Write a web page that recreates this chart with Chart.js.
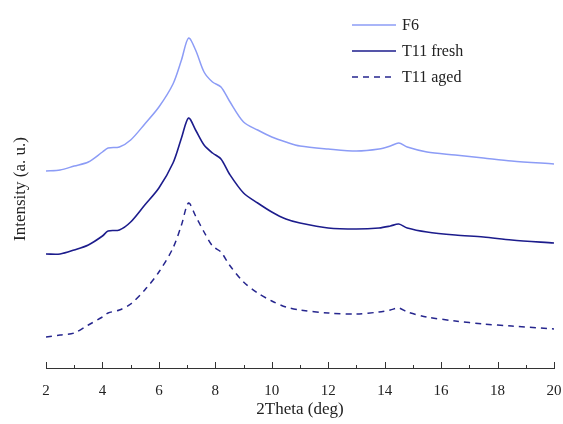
<!DOCTYPE html>
<html>
<head>
<meta charset="utf-8">
<script src="https://cdn.jsdelivr.net/npm/chart.js@4/dist/chart.umd.min.js"></script>
<style>
  html, body { margin: 0; padding: 0; background: #fff; }
  #wrap { width: 563px; height: 424px; position: relative; }
</style>
</head>
<body>
<div id="wrap"><canvas id="xrd"></canvas></div>
<script>
// 2Theta (deg) – common grid for the three patterns
const twoTheta = [2, 2.5, 3, 3.5, 4, 4.2, 4.6, 5, 5.5, 6, 6.5, 6.8, 7.05, 7.3, 7.6, 7.9, 8.2, 8.5,
  9, 9.5, 10, 10.5, 11, 12, 13, 13.8, 14.2, 14.5, 14.8, 15.5, 16.5, 17.5, 18.5, 20];

// intensity (a. u., curves stacked with offsets as in the figure)
const f6 = [197, 198, 202, 206, 216, 220, 221, 228, 244, 261, 284, 308, 330, 318, 296, 286, 281, 267,
  246, 238, 231, 226, 222, 219, 217, 219, 222, 225, 221, 216, 213, 210, 207, 204];
const t11Fresh = [114, 114, 118, 123, 132, 137, 138, 146, 163, 180, 205, 230, 250, 238, 223, 215, 209, 194,
  175, 165, 156, 149, 145, 140, 139, 140, 142, 144, 140, 136, 133, 131, 128, 125];
const t11Aged = [31, 33, 35, 43, 51, 55, 58, 64, 78, 96, 120, 143, 165, 152, 136, 122, 116, 103,
  86, 75, 67, 61, 58, 55, 54, 56, 58, 60, 56, 51, 47, 44, 42, 39];

const seriesLabels = ['F6', 'T11 fresh', 'T11 aged'];
const xTicks = [2, 4, 6, 8, 10, 12, 14, 16, 18, 20];

const FONT = '"Liberation Serif", "Times New Roman", serif';

function pts(ys) {
  return twoTheta.map((x, i) => ({ x: x, y: ys[i] }));
}

// tick marks pointing inwards + legend in the upper right
const decor = {
  id: 'decor',
  afterDraw(chart) {
    const ctx = chart.ctx;
    const xs = chart.scales.x;
    const bottom = chart.chartArea.bottom;
    ctx.save();
    ctx.strokeStyle = '#333';
    ctx.lineWidth = 1;
    for (let v = 2; v <= 20; v++) {
      const px = Math.round(xs.getPixelForValue(v)) + 0.5;
      const len = (v % 2 === 0) ? 6 : 3;
      ctx.beginPath();
      ctx.moveTo(px, bottom);
      ctx.lineTo(px, bottom - len);
      ctx.stroke();
    }

    // legend
    ctx.font = '16px ' + FONT;
    ctx.textBaseline = 'middle';
    chart.data.datasets.forEach((ds, i) => {
      const y = 25 + i * 26;
      ctx.strokeStyle = ds.borderColor;
      ctx.lineWidth = ds.borderWidth;
      ctx.setLineDash(ds.borderDash || []);
      ctx.beginPath();
      ctx.moveTo(352, y);
      ctx.lineTo(396, y);
      ctx.stroke();
      ctx.setLineDash([]);
      ctx.fillStyle = '#222';
      ctx.fillText(ds.label, 402, y + 1);
    });
    ctx.restore();
  }
};

new Chart(document.getElementById('xrd'), {
  type: 'line',
  data: {
    datasets: [
      {
        label: seriesLabels[0],
        data: pts(f6),
        borderColor: '#8c9cf6',
        borderWidth: 1.5,
        pointRadius: 0,
        tension: 0.3
      },
      {
        label: seriesLabels[1],
        data: pts(t11Fresh),
        borderColor: '#1c1c8c',
        borderWidth: 1.6,
        pointRadius: 0,
        tension: 0.3
      },
      {
        label: seriesLabels[2],
        data: pts(t11Aged),
        borderColor: '#26268e',
        borderWidth: 1.5,
        borderDash: [6, 5],
        pointRadius: 0,
        tension: 0.3
      }
    ]
  },
  options: {
    responsive: true,
    maintainAspectRatio: false,
    animation: false,
    layout: { padding: { top: 10, right: 9, left: 0, bottom: 0 } },
    plugins: {
      legend: { display: false },
      tooltip: { enabled: false }
    },
    scales: {
      x: {
        type: 'linear',
        min: 2,
        max: 20,
        afterBuildTicks: (s) => { s.ticks = xTicks.map(v => ({ value: v })); },
        afterFit: (s) => { s.height = 56; s.paddingRight = 0; s.paddingLeft = 0; },
        grid: { display: false },
        border: { display: true, color: '#333', width: 1 },
        ticks: {
          color: '#222',
          padding: 6,
          maxRotation: 0,
          font: { family: FONT, size: 15 }
        },
        title: {
          display: true,
          text: '2Theta (deg)',
          color: '#222',
          padding: { top: 7 },
          font: { family: FONT, size: 17 }
        }
      },
      y: {
        min: 0,
        max: 358,
        afterFit: (s) => { s.width = 46; },
        grid: { display: false },
        border: { display: false },
        ticks: { display: false },
        title: {
          display: true,
          text: 'Intensity (a. u.)',
          color: '#222',
          padding: { top: 10, bottom: 0 },
          font: { family: FONT, size: 17 }
        }
      }
    }
  },
  plugins: [decor]
});
</script>
</body>
</html>
